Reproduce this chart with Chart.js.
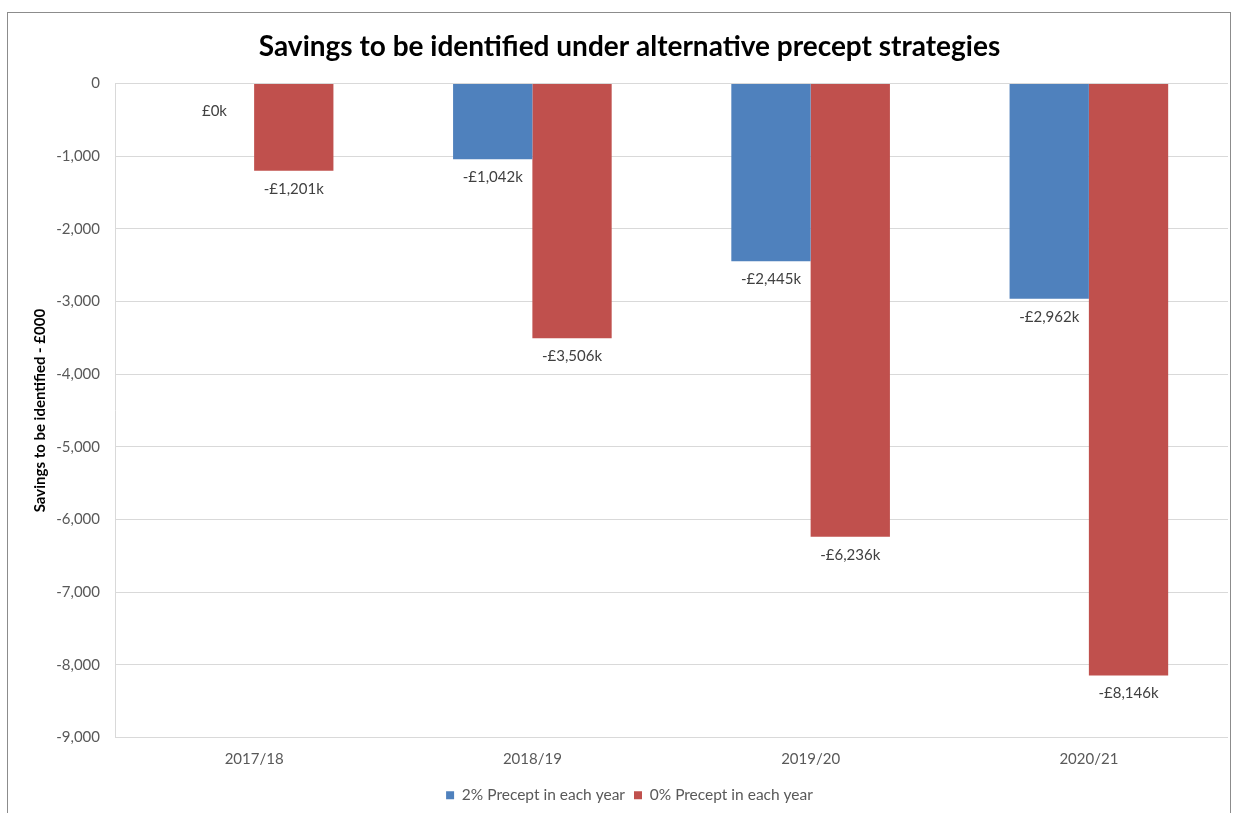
<!DOCTYPE html>
<html>
<head>
<meta charset="utf-8">
<script src="https://cdn.jsdelivr.net/npm/chart.js@4.4.1/dist/chart.umd.min.js"></script>
<style>
html,body{margin:0;padding:0;background:#fff}
#wrap{position:relative;width:1242px;height:813px}
#frame{position:absolute;left:7px;top:12px;width:1224px;height:820px;border:1px solid #8c8c8c;box-sizing:border-box}
canvas{position:absolute;left:0;top:0}
</style>
</head>
<body>
<div id="wrap">
<div id="frame"></div>
<canvas id="chartSavings" width="1242" height="813"></canvas>
</div>
<script>
const years = ['2017/18','2018/19','2019/20','2020/21']
const precept2 = [0,-1042,-2445,-2962]
const precept0 = [-1201,-3506,-6236,-8146]
const seriesNames = ['2% Precept in each year','0% Precept in each year']
const yTicks = [0,-1000,-2000,-3000,-4000,-5000,-6000,-7000,-8000,-9000]

const fontName = "Lato, 'Open Sans', sans-serif"

function fmtK(v){
  const s = Math.abs(v).toLocaleString('en-GB')
  return (v<0?'-':'')+'£'+s+'k'
}

// value labels under the end of each bar, like Excel "outside end"
const barLabelsPlugin = {
  id:'barLabels',
  afterDatasetsDraw(chart){
    const ctx = chart.ctx
    ctx.save()
    ctx.font = "15px "+fontName
    ctx.fillStyle = '#404040'
    ctx.textAlign = 'center'
    ctx.textBaseline = 'middle'
    chart.data.datasets.forEach((ds,di)=>{
      chart.getDatasetMeta(di).data.forEach((bar,i)=>{
        const v = ds.data[i]
        let y = bar.y + 18
        if (v===0) y = bar.y + 28
        ctx.fillText(fmtK(v), bar.x, y)
      })
    })
    ctx.restore()
  }
}

Chart.defaults.font.family = fontName

const chartSavings = new Chart(document.getElementById('chartSavings'),{
  type:'bar',
  data:{
    labels: years,
    datasets:[
      {label:seriesNames[0],data:precept2,backgroundColor:'#4F81BD',barPercentage:1,categoryPercentage:0.57},
      {label:seriesNames[1],data:precept0,backgroundColor:'#C0504D',barPercentage:1,categoryPercentage:0.57}
    ]
  },
  options:{
    responsive:false,
    animation:false,
    layout:{padding:{left:31,right:14,top:0,bottom:0}},
    scales:{
      x:{
        afterFit(axis){axis.height = 41},
        grid:{display:false,drawTicks:false},
        border:{display:false},
        ticks:{color:'#595959',font:{size:15},padding:13}
      },
      y:{
        min:-9000,max:0,
        afterBuildTicks(axis){axis.ticks = yTicks.map(v=>({value:v}))},
        afterFit(axis){axis.width = 84},
        grid:{color:'#d9d9d9',lineWidth:1,drawTicks:false},
        border:{display:true,color:'#d9d9d9'},
        ticks:{color:'#595959',font:{size:15},padding:15,callback:v=>v.toLocaleString('en-US')},
        title:{display:true,text:'Savings to be identified - £000',color:'#000',font:{size:15,weight:'bold'},padding:{top:0,bottom:4}}
      }
    },
    plugins:{
      title:{display:true,text:'Savings to be identified under alternative precept strategies',color:'#000',font:{size:28,weight:'bold'},padding:{top:30,bottom:20}},
      legend:{position:'bottom',labels:{boxWidth:8,boxHeight:8,color:'#595959',font:{size:15.5},padding:9}},
      tooltip:{enabled:false}
    }
  },
  plugins:[barLabelsPlugin]
})
</script>
</body>
</html>
